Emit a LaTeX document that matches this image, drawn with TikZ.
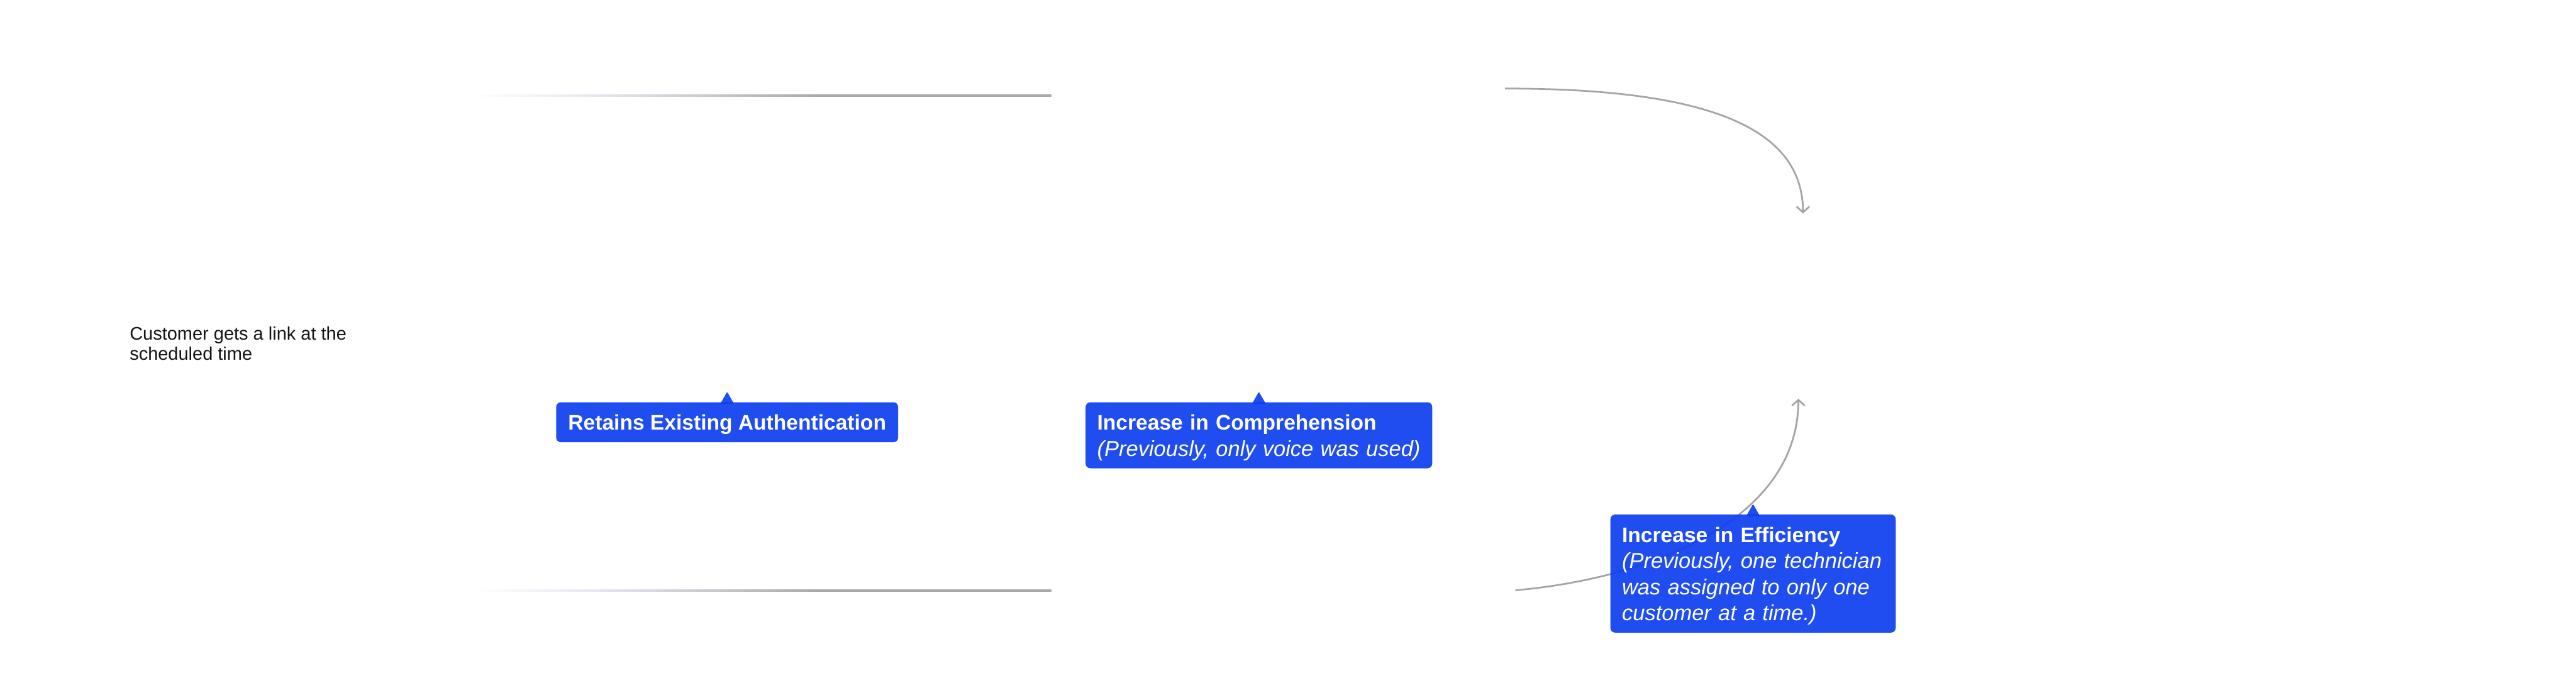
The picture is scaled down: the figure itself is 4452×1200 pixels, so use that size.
\documentclass[tikz,border=0pt]{standalone}
\usepackage{fontspec}
\setmainfont{Liberation Sans}
\usetikzlibrary{arrows.meta,calc}
\definecolor{tagBlue}{RGB}{12,62,238}
\definecolor{lineGray}{RGB}{168,168,168}
\definecolor{curveGray}{RGB}{165,165,165}
\definecolor{lavLine}{RGB}{232,232,243}
\definecolor{midLine}{RGB}{195,195,200}
\definecolor{textDark}{RGB}{20,20,20}
\pgfdeclarehorizontalshading{fadelineshade}{100bp}{color(0bp)=(white); color(25bp)=(white); color(35bp)=(lavLine); color(47bp)=(midLine); color(55bp)=(lineGray); color(100bp)=(lineGray)}
\newcommand{\mytagtop}{\rule{0pt}{48pt}}
\newcommand{\mytagbot}{\rule[-21pt]{0pt}{21pt}}
\newcommand{\mytagbf}{\fontsize{36.5}{45}\selectfont\bfseries}
\newcommand{\mytagit}{\fontsize{37.5}{45}\selectfont\mdseries\itshape}
\begin{document}
\begin{tikzpicture}[x=1pt,y=-1pt,
  tag/.style={fill=tagBlue, fill opacity=0.92, text opacity=1, text=white,
    rounded corners=8pt, inner xsep=20pt, inner ysep=0pt, anchor=north west,
    align=left, font=\mytagbf},
  tagtip/.style={fill=tagBlue, fill opacity=0.92, rounded corners=1.5pt},
  conn/.style={draw=curveGray, line width=3pt, -{Straight Barb[length=10pt,width=22pt]}},
  fadebar/.style={shading=fadelineshade}
]
\fill[white] (0,0) rectangle (4452,1200);
\useasboundingbox (0,0) rectangle (4452,1200);

% left text
\node[anchor=north west, inner sep=0pt, align=left, text=textDark,
  font=\fontsize{31.5}{35}\selectfont] (cust) at (224,560)
  {\rule{0pt}{27pt}Customer gets a link at the\\scheduled time};

% faded horizontal lines
\coordinate (t1) at (818,165.5);
\coordinate (t2) at (1817,165.5);
\shade[fadebar] ($(t1)+(0,-1.5)$) rectangle ($(t2)+(0,1.5)$);
\coordinate (u1) at (818,1020.5);
\coordinate (u2) at (1817,1020.5);
\shade[fadebar] ($(u1)+(0,-1.5)$) rectangle ($(u2)+(0,1.5)$);

% curved connectors
\coordinate (c1s) at (2601,153);
\coordinate (c1e) at (3116,369);
\draw[conn] (c1s) .. controls (2950,153) and (3116,220) .. (c1e);
\coordinate (c2s) at (2619,1020);
\coordinate (c2e) at (3108,689);
\draw[conn] (c2s) .. controls (2850,1000) and (3108,900) .. (c2e);

% tags
\node[tag, minimum width=591pt, align=center] (auth) at (961,695)
  {\mytagtop Retains Existing Authentication\mytagbot};
\node[tag, text width=559pt] (comp) at (1876,695)
  {\mytagtop Increase in Comprehension\\\mytagit (Previously, only voice was used)\mytagbot};
\node[tag, text width=453pt] (eff) at (2783,889)
  {\mytagtop Increase in Efficiency\\\mytagit (Previously, one technician\\was assigned to only one\\customer at a time.)\mytagbot};

\foreach \n in {auth,comp,eff}
  \path[tagtip] ($(\n.north)+(-12,3)$) -- ($(\n.north)+(0,-18)$) -- ($(\n.north)+(12,3)$) -- cycle;
\end{tikzpicture}
\end{document}
